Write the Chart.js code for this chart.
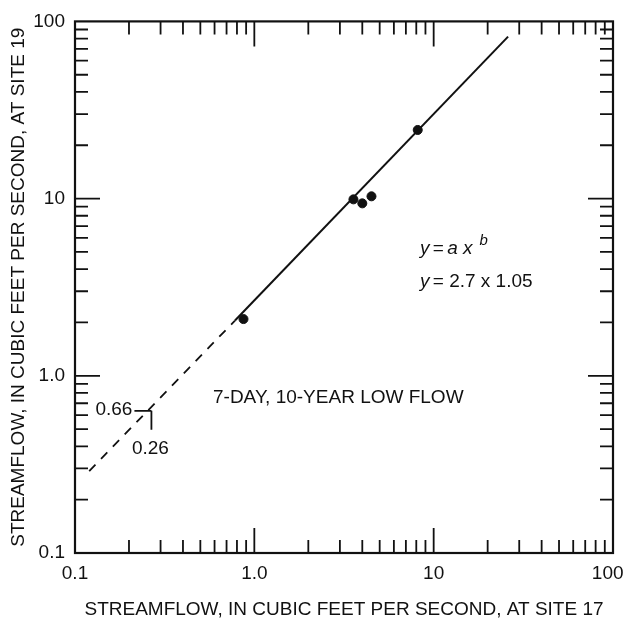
<!DOCTYPE html>
<html>
<head>
<meta charset="utf-8">
<script src="https://cdn.jsdelivr.net/npm/chart.js@4.4.1/dist/chart.umd.min.js"></script>
<style>
  html, body { margin: 0; padding: 0; background: #fff; }
  #wrap { width: 623px; height: 621px; }
</style>
</head>
<body>
<div id="wrap"><canvas id="chart" width="623" height="621"></canvas></div>
<script>
// observed pairs, site 17 (x) vs site 19 (y)
let siteX = [0.87, 3.57, 4.0, 4.5, 8.15];
let siteY = [2.09, 9.9, 9.4, 10.3, 24.4];

// fitted line y = 2.7 x^1.05, solid part and dashed extension
let fitX = [0.78, 26];
let fitY = [2.05, 82];
let extX = [0.12, 0.78];
let extY = [0.29, 2.05];

// the 0.26 / 0.66 read-off on the dashed line
let readX = 0.26;
let readY = 0.66;

let xTicks = [0.1, 1, 10, 100];
let xTickLabels = ['0.1', '1.0', '10', '100  '];
let yTicks = [0.1, 1, 10, 100];
let yTickLabels = ['0.1', '1.0', '10', '100'];

const FONT = '"Liberation Sans", Arial, Helvetica, sans-serif';
const INK = '#111';
const FS = 19;

function pairs(xs, ys) {
    return xs.map((x, i) => ({x: x, y: ys[i]}));
}

// inside tick marks on all four sides plus frame and text notes
const framePlugin = {
    id: 'frame',
    afterDraw(chart) {
        let ctx = chart.ctx;
        let a = chart.chartArea;
        let xs = chart.scales.x;
        let ys = chart.scales.y;
        ctx.save();
        ctx.strokeStyle = INK;
        ctx.lineWidth = 2.2;
        ctx.strokeRect(a.left, a.top, a.right - a.left, a.bottom - a.top);

        ctx.lineWidth = 1.8;
        ctx.beginPath();
        for (let d = 0.1; d < 100; d *= 10) {
            for (let m = 1; m <= 9; m++) {
                let v = d * m;
                let len = m === 1 ? 25 : 13;
                let px = xs.getPixelForValue(v);
                let py = ys.getPixelForValue(v);
                if (m > 1 || d > 0.1) {
                    ctx.moveTo(px, a.bottom); ctx.lineTo(px, a.bottom - len);
                    ctx.moveTo(px, a.top); ctx.lineTo(px, a.top + len);
                    ctx.moveTo(a.left, py); ctx.lineTo(a.left + len, py);
                    ctx.moveTo(a.right, py); ctx.lineTo(a.right - len, py);
                }
            }
        }
        ctx.stroke();

        // read-off bracket
        let rx = xs.getPixelForValue(readX);
        let ry = ys.getPixelForValue(readY);
        ctx.lineWidth = 1.8;
        ctx.beginPath();
        ctx.moveTo(rx - 15, ry + 3); ctx.lineTo(rx + 2, ry + 3);
        ctx.moveTo(rx + 2, ry + 3); ctx.lineTo(rx + 2, ry + 22);
        ctx.stroke();

        ctx.fillStyle = INK;
        ctx.font = FS + 'px ' + FONT;
        ctx.textBaseline = 'middle';
        ctx.textAlign = 'right';
        ctx.fillText('0.66', rx - 17, ry + 2);
        ctx.textAlign = 'center';
        ctx.fillText('0.26', rx + 1, ry + 41);

        ctx.textAlign = 'left';
        ctx.fillText('7-DAY, 10-YEAR LOW FLOW', 213, 398);

        // equations
        let x0 = 420;
        ctx.font = 'italic ' + FS + 'px ' + FONT;
        ctx.fillText('y', x0, 249);
        let w = ctx.measureText('y').width;
        ctx.font = FS + 'px ' + FONT;
        ctx.fillText(' = ', x0 + w - 2, 249);
        let w2 = ctx.measureText(' = ').width;
        ctx.font = 'italic ' + FS + 'px ' + FONT;
        ctx.fillText('a x', x0 + w + w2 - 4, 249);
        let w3 = ctx.measureText('a x').width;
        ctx.font = 'italic 15px ' + FONT;
        ctx.fillText('b', x0 + w + w2 + w3 + 3, 241);

        ctx.font = 'italic ' + FS + 'px ' + FONT;
        ctx.fillText('y', x0, 282);
        ctx.font = FS + 'px ' + FONT;
        ctx.fillText(' = 2.7 x 1.05', x0 + w - 2, 282);
        ctx.restore();
    }
};

let ctx = document.getElementById('chart').getContext('2d');
let chart = new Chart(ctx, {
    type: 'scatter',
    data: {
        datasets: [{
            data: pairs(siteX, siteY),
            backgroundColor: INK,
            borderColor: INK,
            pointRadius: 4.5,
            showLine: false
        }, {
            data: pairs(fitX, fitY),
            borderColor: INK,
            borderWidth: 2,
            pointRadius: 0,
            showLine: true
        }, {
            data: pairs(extX, extY),
            borderColor: INK,
            borderWidth: 1.8,
            borderDash: [9, 8],
            pointRadius: 0,
            showLine: true
        }]
    },
    options: {
        responsive: false,
        animation: false,
        layout: {padding: {top: 19, right: 10, bottom: 0, left: 0}},
        plugins: {legend: {display: false}, tooltip: {enabled: false}},
        scales: {
            x: {
                type: 'logarithmic',
                min: 0.1, max: 100,
                grid: {display: false, drawTicks: false},
                border: {display: false},
                afterBuildTicks: (s) => { s.ticks = xTicks.map(v => ({value: v})); },
                afterFit: (s) => { s.height = 68; s.paddingLeft = 0; s.paddingRight = 0; },
                ticks: {
                    autoSkip: false, maxRotation: 0, padding: 9, color: INK,
                    font: {family: FONT, size: FS},
                    callback: (v, i) => xTickLabels[i]
                },
                title: {
                    display: true, color: INK,
                    text: 'STREAMFLOW, IN CUBIC FEET PER SECOND, AT SITE 17',
                    font: {family: FONT, size: FS},
                    padding: {top: 0, bottom: 0}
                }
            },
            y: {
                type: 'logarithmic',
                min: 0.1, max: 100,
                grid: {display: false, drawTicks: false},
                border: {display: false},
                afterBuildTicks: (s) => { s.ticks = yTicks.map(v => ({value: v})); },
                afterFit: (s) => { s.width = 75; },
                ticks: {
                    autoSkip: false, padding: 10, color: INK,
                    font: {family: FONT, size: FS},
                    callback: (v, i) => yTickLabels[i]
                },
                title: {
                    display: true, color: INK,
                    text: 'STREAMFLOW, IN CUBIC FEET PER SECOND, AT SITE 19',
                    font: {family: FONT, size: FS},
                    padding: {top: 7, bottom: 0}
                }
            }
        }
    },
    plugins: [framePlugin]
});
</script>
</body>
</html>
